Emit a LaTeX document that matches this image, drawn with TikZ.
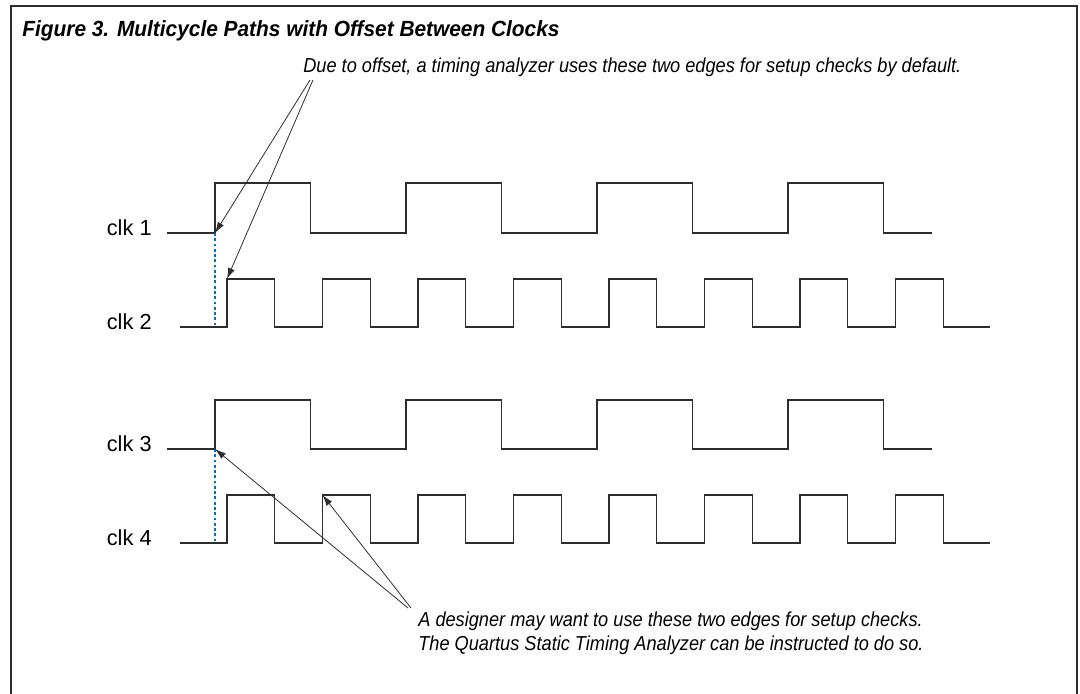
\documentclass[tikz,border=0pt]{standalone}
\usepackage{fontspec}
\setmainfont{Liberation Sans}
\newfontfamily\notefont{Liberation Sans}[FakeStretch=0.9]
\newfontfamily\headfont{Liberation Sans}[FakeStretch=0.95]
\usepackage{tikz}
\usetikzlibrary{arrows.meta}

\definecolor{wavegray}{RGB}{45,45,45}
\definecolor{offblue}{RGB}{0,112,192}

\begin{document}
\begin{tikzpicture}[
  x=0.02cm, y=-0.02cm,
  frame/.style={draw=wavegray, line width=1.1pt},
  wave/.style={draw=wavegray, line width=0.8pt},
  offs/.style={draw=offblue, line width=0.6pt, dash pattern=on 1.6pt off 1.4pt},
  ar/.style={-{Latex[length=2.2mm, width=1.4mm]}, draw=wavegray, line width=0.45pt},
  clklabel/.style={anchor=base east, inner sep=0pt, font=\fontsize{12.4}{14}\selectfont},
  note/.style={anchor=base west, inner sep=0pt, align=left,
               font=\notefont\itshape\fontsize{11.5}{13.6}\selectfont},
  title/.style={anchor=base west, inner sep=0pt,
                font=\headfont\bfseries\itshape\fontsize{12.5}{14}\selectfont}
]
\useasboundingbox (0,0) rectangle (1080,694);
\draw[frame] (11,694) |- (1077,6) -- (1077,694);

\node[title] (head) at (22,36) {Figure 3. Multicycle Paths with Offset Between Clocks};

% clock labels
\node[clklabel] (l1) at (152,235) {clk 1};
\node[clklabel] (l2) at (152,329) {clk 2};
\node[clklabel] (l3) at (152,451) {clk 3};
\node[clklabel] (l4) at (152,545) {clk 4};

% waveforms
\draw[wave] (167,233) foreach \k in {0,...,3} {
  -- ({215+191*\k},233) -- ({215+191*\k},183) -- ({310.5+191*\k},183) -- ({310.5+191*\k},233) } -- (932,233);
\draw[wave] (180,327) foreach \k in {0,...,7} {
  -- ({227+95.5*\k},327) -- ({227+95.5*\k},279) -- ({274.75+95.5*\k},279) -- ({274.75+95.5*\k},327) } -- (990,327);
\draw[wave] (167,449) foreach \k in {0,...,3} {
  -- ({215+191*\k},449) -- ({215+191*\k},400) -- ({310.5+191*\k},400) -- ({310.5+191*\k},449) } -- (932,449);
\draw[wave] (180,543) foreach \k in {0,...,7} {
  -- ({227+95.5*\k},543) -- ({227+95.5*\k},495) -- ({274.75+95.5*\k},495) -- ({274.75+95.5*\k},543) } -- (990,543);

% edges used by the checks
\coordinate (rise1) at (215,233);
\coordinate (rise2) at (227,279);
\coordinate (rise3) at (215,449);
\coordinate (rise4) at (322.5,495);
\coordinate (foot2) at (215,327);
\coordinate (foot4) at (215,543);

% offset markers
\draw[offs] (rise1) -- (foot2);
\draw[offs] (rise3) -- (foot4);

% notes
\node[note] (topnote) at (303,72)
  {Due to offset, a timing analyzer uses these two edges for setup checks by default.};
\node[note] (botnote) at (418,650)
  {A designer may want to use these two edges for setup checks.\\
   The Quartus Static Timing Analyzer can be instructed to do so.};

\coordinate (tail1) at (310,80);
\coordinate (tail2) at (313,80);
\coordinate (tail3) at (408,608);
\coordinate (tail4) at (411,608);

\draw[ar] (tail1) -- (rise1);
\draw[ar] (tail2) -- (rise2);
\draw[ar] (tail3) -- (rise3);
\draw[ar] (tail4) -- (rise4);
\end{tikzpicture}
\end{document}
